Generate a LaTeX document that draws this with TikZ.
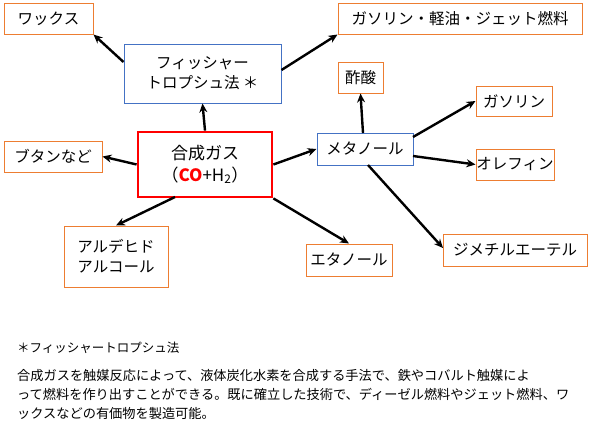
\documentclass[tikz,border=0pt]{standalone}
\usepackage{fontspec}
\setmainfont{Noto Sans CJK JP}
\usetikzlibrary{arrows.meta}
\definecolor{org}{RGB}{237,125,49}
\definecolor{blu}{RGB}{68,114,196}
\begin{document}
\begin{tikzpicture}[x=1pt,y=-1pt,
 ob/.style={draw=org,line width=1pt,fill=white,inner sep=0pt,align=center,font=\fontsize{15.5}{20}\selectfont},
 bb/.style={draw=blu,line width=1pt,fill=white,inner sep=0pt,align=center,font=\fontsize{15.5}{20}\selectfont},
 ar/.style={-{Stealth[length=9pt,width=8pt]},line width=2.4pt}]
\useasboundingbox (0,0) rectangle (600,434);
\node[ob,minimum width=89,minimum height=31] (wax) at (48.5,18.5) {ワックス};
\node[ob,minimum width=244,minimum height=31] (gas1) at (460,18.5) {ガソリン・軽油・ジェット燃料};
\node[bb,minimum width=157,minimum height=59] (ft) at (202.5,73.5) {フィッシャー\\トロプシュ法 ＊};
\node[ob,minimum width=45,minimum height=31] (sak) at (360.5,77.5) {酢酸};
\node[ob,minimum width=76,minimum height=30] (gas2) at (514,101) {ガソリン};
\node[ob,minimum width=98,minimum height=31] (but) at (53,156.5) {ブタンなど};
\node[draw=red,line width=2.8pt,fill=white,inner sep=0pt,align=center,minimum width=134,minimum height=65,font=\fontsize{17}{22}\selectfont] (syn) at (205,164.5) {合成ガス\\（\textcolor{red}{\textbf{CO}}+H\textsubscript{2}）};
\node[bb,minimum width=96,minimum height=32] (met) at (365,149) {メタノール};
\node[ob,minimum width=78,minimum height=31] (ole) at (515,164.5) {オレフィン};
\node[ob,minimum width=104,minimum height=61] (ald) at (116,256.5) {アルデヒド\\アルコール};
\node[ob,minimum width=86,minimum height=32] (eth) at (349,260) {エタノール};
\node[ob,minimum width=144,minimum height=32] (dme) at (515,250) {ジメチルエーテル};
\draw[ar] (ft.west|-0,62) -- (wax.south east);
\draw[ar] (ft.east|-0,70) -- (gas1.south west);
\draw[ar] (syn.north) -- (ft.south);
\draw[ar] (syn.west) -- (but.east);
\draw[ar] (175,197) -- (ald.north);
\draw[ar] (syn.south east) -- (eth.north);
\draw[ar] (syn.east) -- (met.west);
\draw[ar] (363,133) -- (sak.south);
\draw[ar] (413,137) -- (gas2.west);
\draw[ar] (413,156) -- (ole.west);
\draw[ar] (368,165) -- (443,248);
\node[anchor=west,inner sep=0pt,font=\fontsize{12.5}{15}\selectfont] (n1) at (17,348) {＊フィッシャートロプシュ法};
\node[anchor=north west,inner sep=0pt,align=left,font=\fontsize{13.2}{19}\selectfont] (n2) at (17,369) {合成ガスを触媒反応によって、液体炭化水素を合成する手法で、鉄やコバルト触媒によ\\って燃料を作り出すことができる。既に確立した技術で、ディーゼル燃料やジェット燃料、ワ\\ックスなどの有価物を製造可能。};
\end{tikzpicture}
\end{document}
